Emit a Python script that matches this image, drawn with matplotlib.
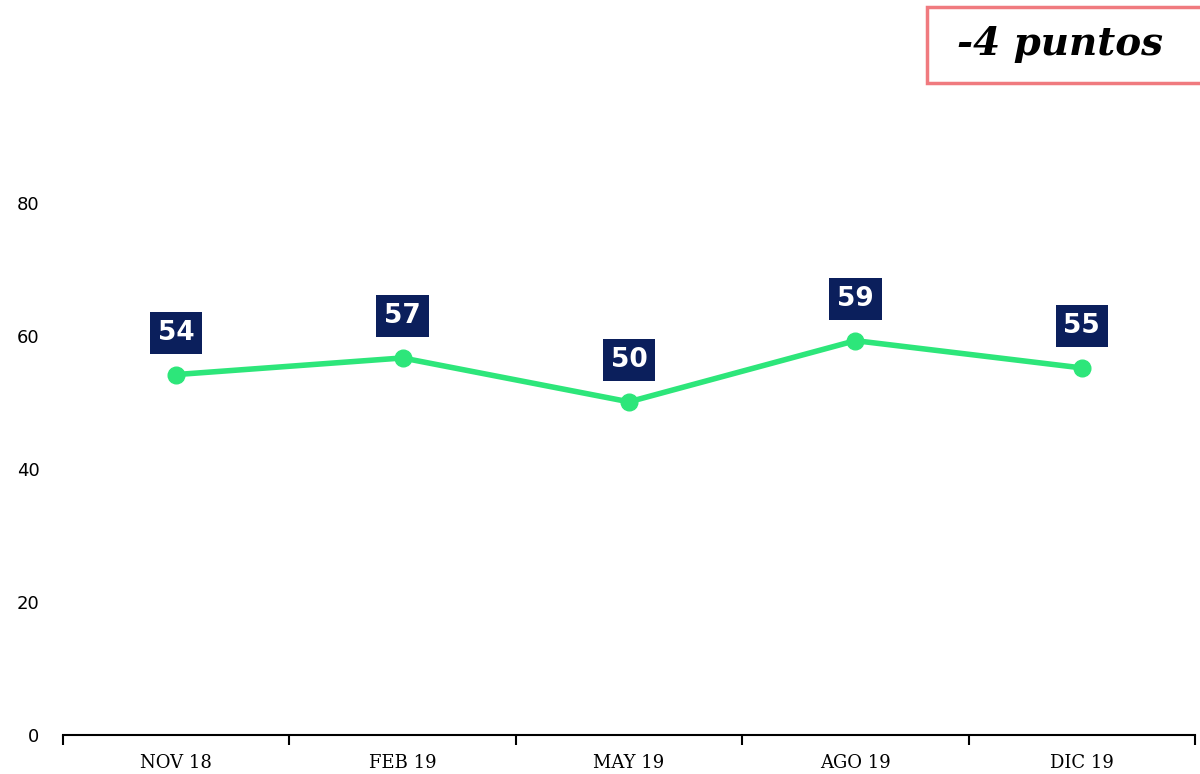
import matplotlib.pyplot as plt
from matplotlib.patches import Rectangle

periods = ["NOV 18", "FEB 19", "MAY 19", "AGO 19", "DIC 19"]
values = [54.2, 56.7, 50.1, 59.3, 55.2]
labels = ["54", "57", "50", "59", "55"]
change_text = "-4 puntos"

line_color = "#2de67a"
box_color = "#0b1f5c"

fig = plt.figure(figsize=(12, 7.74), dpi=100)
ax = fig.add_axes([63 / 1200, 1 - 735 / 774, 1132 / 1200, 532 / 774])

x = list(range(len(periods)))
ax.plot(x, values, color=line_color, lw=4, marker="o", ms=12,
        solid_capstyle="round", clip_on=False, zorder=3)

for xi, v, lab in zip(x, values, labels):
    ax.annotate(lab, (xi, v), xytext=(0, 30), textcoords="offset points",
                ha="center", va="center", color="white", fontsize=19,
                fontweight="bold", family="DejaVu Sans",
                bbox=dict(boxstyle="square,pad=0.3", fc=box_color, ec="none"),
                annotation_clip=False, zorder=4)

ax.set_xlim(-0.5, len(periods) - 0.5)
ax.set_ylim(0, 80)
ax.set_yticks([0, 20, 40, 60, 80])
ax.tick_params(axis="y", length=0, pad=17, labelsize=13)

# category boundaries get tick marks, centres get the labels
ax.set_xticks([i - 0.5 for i in range(len(periods) + 1)])
ax.set_xticklabels([])
ax.tick_params(axis="x", which="major", length=7, width=1.5, direction="out")
ax.set_xticks(x, minor=True)
ax.set_xticklabels(periods, minor=True, family="DejaVu Serif", fontsize=13)
ax.tick_params(axis="x", which="minor", length=0, pad=14)

for side in ["top", "right", "left"]:
    ax.spines[side].set_visible(False)
ax.spines["bottom"].set_linewidth(1.5)

fig.patches.append(Rectangle((927 / 1200, 1 - 83 / 774), 290 / 1200, 76 / 774,
                             transform=fig.transFigure, fc="white",
                             ec="#f07a7f", lw=2.5))
fig.text(1060 / 1200, 1 - 44 / 774, change_text, ha="center", va="center",
         fontsize=28, fontweight="bold", fontstyle="italic",
         family="DejaVu Serif")

fig.savefig("out.png", dpi=100)
